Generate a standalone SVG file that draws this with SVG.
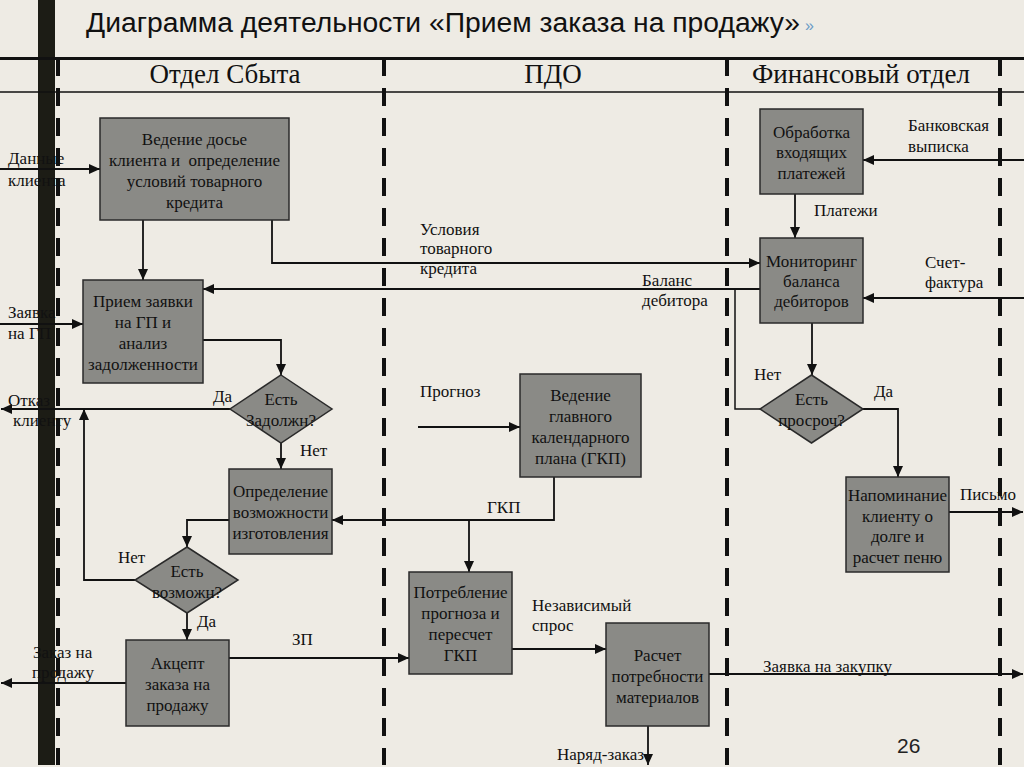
<svg xmlns="http://www.w3.org/2000/svg" width="1024" height="767" viewBox="0 0 1024 767">
<defs>
<style>
.bg{fill:#eeebe4}
.bar{fill:#1c1c15}
.lane{stroke:#111;stroke-width:4;stroke-dasharray:18 12;fill:none}
.hl{stroke:#111;fill:none}
.box{fill:#8a8a86;stroke:#2a2a2a;stroke-width:1.5}
.t{font-family:"Liberation Serif","Times New Roman",serif;font-size:17px;fill:#111;text-anchor:middle}
.l{font-family:"Liberation Serif","Times New Roman",serif;font-size:17px;fill:#111}
.h{font-family:"Liberation Serif","Times New Roman",serif;font-size:27px;fill:#111;text-anchor:middle}
.c{stroke:#111;stroke-width:1.8;fill:none;marker-end:url(#ah)}
.cn{stroke:#111;stroke-width:1.5;fill:none}
</style>
<marker id="ah" markerUnits="userSpaceOnUse" markerWidth="12" markerHeight="10" refX="11" refY="5" orient="auto">
<path d="M0,0 L11,5 L0,10 z" fill="#111"/>
</marker>
</defs>
<rect class="bg" x="0" y="0" width="1024" height="767"/>
<g id="frame">
<rect class="bar" x="38" y="0" width="17" height="765"/>
<line class="hl" x1="0" y1="58.5" x2="1024" y2="58.5" stroke-width="3"/>
<line class="hl" x1="0" y1="92" x2="1024" y2="92" stroke-width="1.5"/>
<line class="lane" x1="58" y1="58" x2="58" y2="765"/>
<line class="lane" x1="384" y1="58" x2="384" y2="765"/>
<line class="lane" x1="727" y1="58" x2="727" y2="765"/>
<line class="lane" x1="1000" y1="58" x2="1000" y2="765"/>
</g>
<g id="title">
<text x="86" y="32" font-family="Liberation Sans, Arial, sans-serif" font-size="27" fill="#111" textLength="714" lengthAdjust="spacingAndGlyphs">Диаграмма деятельности «Прием заказа на продажу»</text>
<text x="805" y="31" font-family="Liberation Sans, Arial, sans-serif" font-size="16" fill="#6b9cc6">»</text>
<text x="897" y="753" font-family="Liberation Sans, Arial, sans-serif" font-size="21" fill="#222">26</text>
</g>
<g id="lanes">
<text class="h" x="225" y="83">Отдел Сбыта</text>
<text class="h" x="553" y="83">ПДО</text>
<text class="h" x="861" y="83">Финансовый отдел</text>
</g>
<g id="connectors">
<path class="c" d="M0,169 H100"/>
<path class="c" d="M143,220 V280"/>
<path class="c" d="M272,220 V263 H760"/>
<path class="c" d="M760,289 H203"/>
<path class="cn" d="M760,409 H735 V289"/>
<path class="c" d="M0,324 H83"/>
<path class="c" d="M203,340 H281 V375"/>
<path class="c" d="M230,409 H1"/>
<path class="c" d="M281,443 V469"/>
<path class="c" d="M554,477 V520 H332"/>
<path class="c" d="M469,520 V572"/>
<path class="c" d="M229,520 H187 V547"/>
<path class="c" d="M135,580 H84 V409"/>
<path class="c" d="M187,613 V640"/>
<path class="c" d="M229,658 H409"/>
<path class="c" d="M126,683 H1"/>
<path class="c" d="M418,427 H520"/>
<path class="c" d="M512,649 H606"/>
<path class="c" d="M709,674 H1023"/>
<path class="c" d="M648,726 V765"/>
<path class="c" d="M1024,160 H863"/>
<path class="c" d="M795,194 V238"/>
<path class="c" d="M1024,298 H863"/>
<path class="c" d="M812,323 V375"/>
<path class="c" d="M863,409 H898 V477"/>
<path class="c" d="M949,512 H1023"/>
</g>
<g id="n-dossier">
<rect class="box" x="100" y="118" width="189" height="102"/>
<text class="t" x="194.5" y="145">Ведение досье</text>
<text class="t" x="194.5" y="166" xml:space="preserve">клиента и  определение</text>
<text class="t" x="194.5" y="187">условий товарного</text>
<text class="t" x="194.5" y="208">кредита</text>
</g>
<g id="n-priem">
<rect class="box" x="83" y="280" width="120" height="103"/>
<text class="t" x="143" y="307">Прием заявки</text>
<text class="t" x="143" y="328">на ГП и</text>
<text class="t" x="143" y="349">анализ</text>
<text class="t" x="143" y="370">задолженности</text>
</g>
<g id="n-zadolzh">
<polygon class="box" points="281,375 332,409 281,443 230,409"/>
<text class="t" x="281" y="405">Есть</text>
<text class="t" x="281" y="426">Задолжн?</text>
</g>
<g id="n-opredelenie">
<rect class="box" x="229" y="469" width="103" height="85"/>
<text class="t" x="280.5" y="497">Определение</text>
<text class="t" x="280.5" y="518">возможности</text>
<text class="t" x="280.5" y="539">изготовления</text>
</g>
<g id="n-vozmozhn">
<polygon class="box" points="187,547 238,580 187,613 135,580"/>
<text class="t" x="187" y="577">Есть</text>
<text class="t" x="187" y="598">возможн?</text>
</g>
<g id="n-akcept">
<rect class="box" x="126" y="640" width="103" height="86"/>
<text class="t" x="177.5" y="669">Акцепт</text>
<text class="t" x="177.5" y="690">заказа на</text>
<text class="t" x="177.5" y="711">продажу</text>
</g>
<g id="n-gkp">
<rect class="box" x="520" y="374" width="121" height="103"/>
<text class="t" x="580.5" y="401">Ведение</text>
<text class="t" x="580.5" y="422">главного</text>
<text class="t" x="580.5" y="443">календарного</text>
<text class="t" x="580.5" y="464">плана (ГКП)</text>
</g>
<g id="n-potreblenie">
<rect class="box" x="409" y="572" width="103" height="102"/>
<text class="t" x="460.5" y="598">Потребление</text>
<text class="t" x="460.5" y="619">прогноза и</text>
<text class="t" x="460.5" y="640">пересчет</text>
<text class="t" x="460.5" y="661">ГКП</text>
</g>
<g id="n-raschet">
<rect class="box" x="606" y="623" width="103" height="103"/>
<text class="t" x="657.5" y="661">Расчет</text>
<text class="t" x="657.5" y="682">потребности</text>
<text class="t" x="657.5" y="703">материалов</text>
</g>
<g id="n-obrabotka">
<rect class="box" x="760" y="109" width="103" height="85"/>
<text class="t" x="811.5" y="138">Обработка</text>
<text class="t" x="811.5" y="158">входящих</text>
<text class="t" x="811.5" y="179">платежей</text>
</g>
<g id="n-monitoring">
<rect class="box" x="760" y="238" width="103" height="85"/>
<text class="t" x="811.5" y="267">Мониторинг</text>
<text class="t" x="811.5" y="287">баланса</text>
<text class="t" x="811.5" y="307">дебиторов</text>
</g>
<g id="n-prosroch">
<polygon class="box" points="811.5,375 863,409 811.5,443 760,409"/>
<text class="t" x="811.5" y="405">Есть</text>
<text class="t" x="811.5" y="426">просроч?</text>
</g>
<g id="n-napominanie">
<rect class="box" x="846" y="477" width="103" height="95"/>
<text class="t" x="897.5" y="501">Напоминание</text>
<text class="t" x="897.5" y="522">клиенту о</text>
<text class="t" x="897.5" y="542">долге и</text>
<text class="t" x="897.5" y="563">расчет пеню</text>
</g>
<g id="labels">
<text class="l" x="8" y="164">Данные</text>
<text class="l" x="8" y="186">клиента</text>
<text class="l" x="8" y="318">Заявка</text>
<text class="l" x="8" y="339">на ГП</text>
<text class="l" x="8" y="406">Отказ</text>
<text class="l" x="13" y="426">клиенту</text>
<text class="l" x="213" y="402">Да</text>
<text class="l" x="300" y="456">Нет</text>
<text class="l" x="118" y="563">Нет</text>
<text class="l" x="197" y="627">Да</text>
<text class="l" x="33" y="658">Заказ на</text>
<text class="l" x="32" y="678">продажу</text>
<text class="l" x="292" y="645">ЗП</text>
<text class="l" x="420" y="235">Условия</text>
<text class="l" x="420" y="254">товарного</text>
<text class="l" x="420" y="274">кредита</text>
<text class="l" x="642" y="286">Баланс</text>
<text class="l" x="642" y="306">дебитора</text>
<text class="l" x="420" y="397">Прогноз</text>
<text class="l" x="487" y="513">ГКП</text>
<text class="l" x="532" y="611">Независимый</text>
<text class="l" x="532" y="631">спрос</text>
<text class="l" x="557" y="760">Наряд-заказ</text>
<text class="l" x="763" y="672">Заявка на закупку</text>
<text class="l" x="908" y="131">Банковская</text>
<text class="l" x="908" y="152">выписка</text>
<text class="l" x="814" y="216">Платежи</text>
<text class="l" x="925" y="268">Счет-</text>
<text class="l" x="925" y="288">фактура</text>
<text class="l" x="754" y="380">Нет</text>
<text class="l" x="874" y="397">Да</text>
<text class="l" x="960" y="500">Письмо</text>
</g>
</svg>
